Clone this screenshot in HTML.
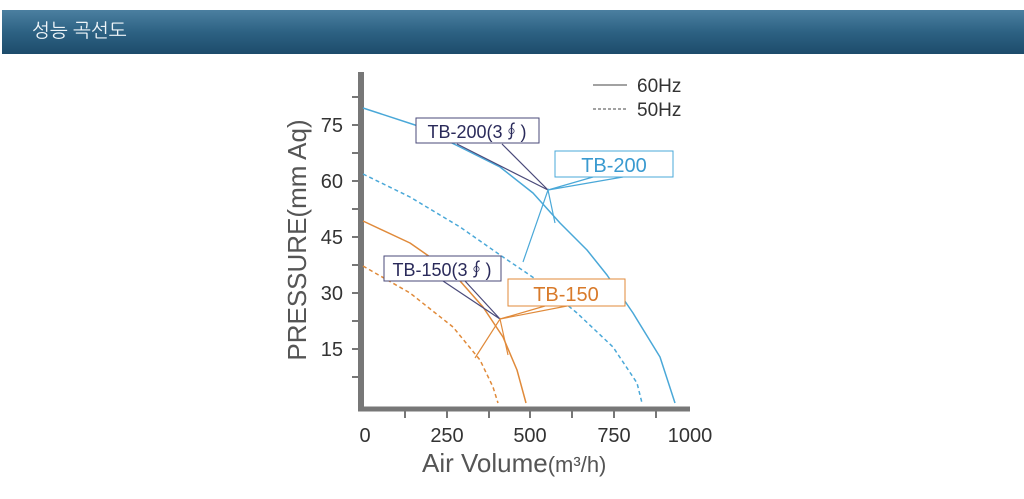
<!DOCTYPE html>
<html><head><meta charset="utf-8"><style>
body{margin:0;width:1024px;height:499px;background:#fff;overflow:hidden;}
.hdr{position:absolute;left:2px;top:10px;width:1022px;height:44px;background:linear-gradient(#4b7fa0,#2d6283 50%,#1d4c6b);}
.hdr span{position:absolute;left:30px;top:9px;color:#eef4f8;font:19px "Liberation Sans","NanumGothic","Noto Sans CJK KR",sans-serif;}
</style></head><body>
<div class="hdr"><span>성능 곡선도</span></div>
<svg width="1024" height="499" style="position:absolute;left:0;top:0" font-family="Liberation Sans, Noto Sans CJK KR, sans-serif">
<g stroke="#777" stroke-width="2">
<line x1="361" y1="72" x2="361" y2="411" stroke-width="6"/>
<line x1="358" y1="409" x2="690" y2="409" stroke-width="5"/>
<line x1="352" y1="97" x2="361" y2="97"/><line x1="352" y1="125" x2="361" y2="125"/><line x1="352" y1="153" x2="361" y2="153"/><line x1="352" y1="181" x2="361" y2="181"/><line x1="352" y1="209" x2="361" y2="209"/><line x1="352" y1="237" x2="361" y2="237"/><line x1="352" y1="265" x2="361" y2="265"/><line x1="352" y1="293" x2="361" y2="293"/><line x1="352" y1="321" x2="361" y2="321"/><line x1="352" y1="349" x2="361" y2="349"/><line x1="352" y1="377" x2="361" y2="377"/>
<line x1="405" y1="409" x2="405" y2="418"/><line x1="447" y1="409" x2="447" y2="418"/><line x1="489" y1="409" x2="489" y2="418"/><line x1="530" y1="409" x2="530" y2="418"/><line x1="572" y1="409" x2="572" y2="418"/><line x1="614" y1="409" x2="614" y2="418"/><line x1="656" y1="409" x2="656" y2="418"/>
</g>
<g font-size="20" fill="#333" text-anchor="end">
<text x="343" y="132">75</text><text x="343" y="188">60</text><text x="343" y="244">45</text><text x="343" y="300">30</text><text x="343" y="356">15</text>
</g>
<g font-size="20" fill="#333" text-anchor="middle">
<text x="365" y="442">0</text><text x="447" y="442">250</text><text x="530" y="442">500</text><text x="614" y="442">750</text><text x="690" y="442">1000</text>
</g>
<text transform="translate(306,240) rotate(-90)" text-anchor="middle" font-size="26" fill="#555">PRESSURE(mm Aq)</text>
<text x="422" y="472" font-size="26" fill="#555">Air Volume<tspan font-size="22">(m³/h)</tspan></text>
<line x1="593" y1="85" x2="627" y2="85" stroke="#444" stroke-width="1"/>
<line x1="593" y1="109" x2="627" y2="109" stroke="#444" stroke-width="1" stroke-dasharray="3,2"/>
<text x="637" y="92" font-size="19" fill="#333">60Hz</text>
<text x="637" y="116" font-size="19" fill="#333">50Hz</text>
<g fill="none" stroke-width="1.5" stroke-linejoin="round">
<polyline stroke="#4aa8d8" points="363,108 415,125 460,147 500,167 533,193 560,223 587,250 607,275 633,313 660,357 675,403"/>
<polyline stroke="#4aa8d8" stroke-dasharray="4,3" points="363,174 410,197 460,227 503,257 537,280 577,313 613,347 637,383 642,403"/>
<polyline stroke="#e08a3a" points="363,221 410,243 453,273 483,307 503,337 517,370 526,403"/>
<polyline stroke="#e08a3a" stroke-dasharray="4,3" points="363,266 410,293 453,327 480,360 493,387 498,403"/>
</g>
<g fill="none" stroke-width="1.2">
<polyline stroke="#4a4a7a" points="457,144 548,190 502,144"/>
<polyline stroke="#4aa8d8" points="593,177 548,190 623,177"/>
<polyline stroke="#4aa8d8" points="523,262 548,190 555,223"/>
<polyline stroke="#4a4a7a" points="443,281 500,319 465,281"/>
<polyline stroke="#e08a3a" points="545,306 500,319 567,306"/>
<polyline stroke="#e08a3a" points="475,358 500,319 508,355"/>
</g>
<rect x="416" y="118" width="123" height="25" fill="#fff" stroke="#4a4a7a"/>
<text x="477" y="138" text-anchor="middle" font-size="18" fill="#2a2a5a">TB-200(3∮)</text>
<rect x="555" y="151" width="118" height="26" fill="#fff" stroke="#4aa8d8"/>
<text x="614" y="172" text-anchor="middle" font-size="20" fill="#3a9ad0">TB-200</text>
<rect x="384" y="256" width="117" height="25" fill="#fff" stroke="#4a4a7a"/>
<text x="442" y="276" text-anchor="middle" font-size="18" fill="#2a2a5a">TB-150(3∮)</text>
<rect x="508" y="279" width="117" height="27" fill="#fff" stroke="#e08a3a"/>
<text x="566" y="301" text-anchor="middle" font-size="20" fill="#d87a2a">TB-150</text>
</svg>
</body></html>
